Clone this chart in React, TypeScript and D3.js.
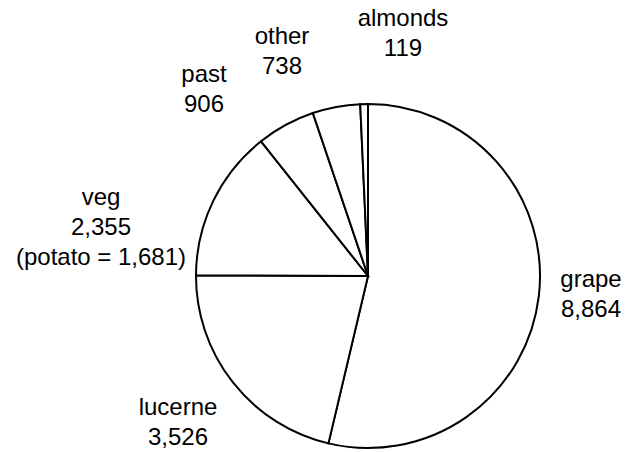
import { useEffect, useRef } from 'react';
import * as d3 from 'd3';

const categories = ['grape', 'lucerne', 'veg', 'past', 'other', 'almonds'];
const areas = [8864, 3526, 2355, 906, 738, 119];
const extraNotes: Record<string, string> = { veg: '(potato = 1,681)' };

// label anchors: centre x and first baseline, hand placed like the original
const labelAnchors: Record<string, [number, number]> = {
  grape: [591, 287],
  lucerne: [178, 415],
  veg: [101, 205],
  past: [204, 82],
  other: [282, 44],
  almonds: [403, 26],
};

export default function App() {
  const svgRef = useRef<SVGSVGElement>(null);

  useEffect(() => {
    if (!svgRef.current) return;
    const width = 627;
    const height = 452;
    const cx = 368;
    const cy = 276;
    const radius = 172;
    const lineHeight = 30;

    const svg = d3.select(svgRef.current);
    svg.selectAll('*').remove();
    svg.attr('width', width).attr('height', height);

    const data = categories.map((c, i) => ({ category: c, value: areas[i] }));

    const pie = d3.pie<{ category: string; value: number }>()
      .sort(null)
      .value(d => d.value)
      .startAngle(0)
      .endAngle(2 * Math.PI);

    const arc = d3.arc<d3.PieArcDatum<{ category: string; value: number }>>()
      .innerRadius(0)
      .outerRadius(radius);

    const g = svg.append('g').attr('transform', `translate(${cx},${cy})`);

    g.selectAll('path')
      .data(pie(data))
      .join('path')
      .attr('d', arc)
      .attr('fill', '#fff')
      .attr('stroke', '#000')
      .attr('stroke-width', 2)
      .attr('stroke-linejoin', 'miter');

    const fmt = d3.format(',');
    const labels = svg.append('g')
      .style('font-family', '"Liberation Sans", Arial, sans-serif')
      .style('font-size', '24px')
      .attr('fill', '#000');

    data.forEach(d => {
      const [x, y] = labelAnchors[d.category];
      const lines = [d.category, fmt(d.value)];
      if (extraNotes[d.category]) lines.push(extraNotes[d.category]);
      const t = labels.append('text').attr('text-anchor', 'middle');
      lines.forEach((ln, i) => {
        t.append('tspan').attr('x', x).attr('y', y + i * lineHeight).text(ln);
      });
    });
  }, []);

  return (
    <svg
      ref={svgRef}
      style={{ position: 'absolute', left: 0, top: 0, display: 'block', background: '#fff' }}
    ></svg>
  );
}
